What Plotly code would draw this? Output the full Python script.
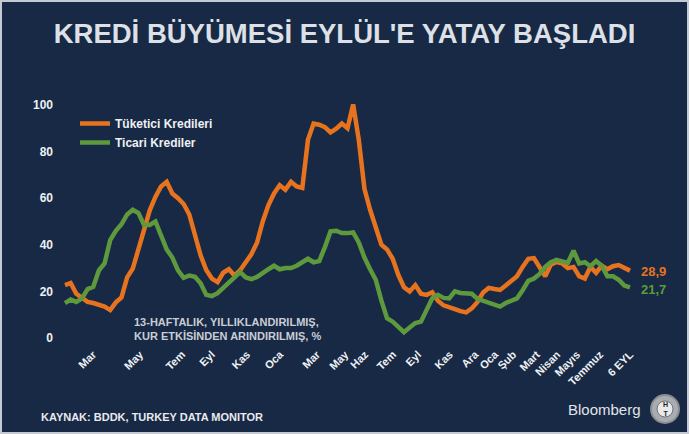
import plotly.graph_objects as go

# ---------------- data ----------------
tuketici = [22.7, 23.6, 19.0, 17.5, 15.5, 15.0, 14.4, 13.5, 12.0, 15.3,
            17.4, 26.0, 29.8, 38.5, 47.8, 54.8, 60.5, 65.0, 67.0, 62.0,
            60.0, 57.5, 53.0, 44.0, 35.5, 29.2, 25.5, 24.0, 28.0, 29.5,
            26.8, 29.1, 32.5, 36.0, 41.0, 50.0, 57.0, 62.0, 65.5, 63.6,
            67.0, 65.0, 64.4, 85.0, 92.0, 91.5, 90.5, 88.2, 89.8, 92.0,
            90.0, 100.2, 85.0, 64.0, 55.0, 47.0, 40.0, 38.0, 34.0, 27.0,
            21.8, 20.0, 22.7, 19.0, 18.5, 19.6, 16.0, 14.0, 13.4, 12.4,
            11.5, 11.0, 12.7, 15.5, 19.5, 21.5, 21.0, 20.6, 22.5, 24.5,
            26.5, 30.5, 34.0, 34.3, 30.5, 26.5, 31.5, 32.6, 32.0, 30.0,
            30.5, 26.5, 25.5, 30.5, 28.0, 31.0, 29.5, 30.8, 31.3, 30.0,
            28.9]
ticari = [15.0, 16.5, 15.5, 17.0, 21.0, 22.0, 29.0, 32.0, 42.0, 46.0,
          48.8, 53.0, 55.0, 53.6, 48.5, 48.5, 50.0, 44.0, 38.0, 34.5,
          29.0, 25.8, 26.8, 26.3, 23.5, 18.5, 18.0, 19.2, 21.5, 24.0,
          25.8, 28.3, 26.0, 25.3, 26.2, 28.0, 29.5, 31.0, 29.5, 30.0,
          30.0, 31.0, 32.5, 34.0, 32.5, 33.0, 39.0, 45.8, 46.0, 45.0,
          45.0, 45.3, 41.0, 34.5, 29.5, 25.0, 16.0, 8.5, 7.0, 5.0,
          2.5, 4.5, 6.4, 7.0, 12.5, 17.0, 18.5, 17.2, 17.0, 20.0,
          19.3, 19.3, 19.0, 16.8, 16.0, 15.6, 14.5, 13.5, 15.0, 16.0,
          17.0, 20.5, 24.5, 25.5, 27.5, 30.5, 32.5, 33.5, 32.6, 32.2,
          37.5, 32.0, 32.5, 30.8, 33.0, 31.0, 26.5, 26.5, 25.0, 22.5,
          21.7]
weeks = list(range(len(tuketici)))

tick_labels = ["Mar", "May", "Tem", "Eyl", "Kas", "Oca", "Mar", "May", "Haz",
               "Tem", "Eyl", "Kas", "Ara", "Oca", "Şub", "Mart", "Nisan",
               "Mayıs", "Temmuz", "6 EYL"]
tick_weeks = [4.96, 13.27, 20.7, 26.0, 32.2, 38.05, 44.6, 49.6, 53.1,
              58.05, 62.5, 68.1, 72.6, 76.1, 79.3, 83.5, 87.1, 90.6, 94.7, 100]
y_ticks = [0, 20, 40, 60, 80, 100]

title_text = "KREDİ BÜYÜMESİ EYLÜL'E YATAY BAŞLADI"
note_text = "13-HAFTALIK, YILLIKLANDIRILMIŞ,<br>KUR ETKİSİNDEN ARINDIRILMIŞ, %"
source_text = "KAYNAK: BDDK, TURKEY DATA MONITOR"

# ---------------- style ----------------
BG = "#172944"
ORANGE = "#e8731f"
GREEN = "#5e9a3d"
TXT = "#eef0f3"
FONT = "Liberation Sans, Arial, sans-serif"

W, H = 689, 434
ML, MR, MT, MB = 58, 9, 90, 89
PW, PH = W - ML - MR, H - MT - MB


def px(xp):
    return (xp - ML) / PW


def py(yp):
    return (H - MB - yp) / PH


fig = go.Figure()
fig.add_trace(go.Scatter(x=weeks, y=tuketici, mode="lines", name="Tüketici Kredileri",
                         line=dict(color=ORANGE, width=4.5)))
fig.add_trace(go.Scatter(x=weeks, y=ticari, mode="lines", name="Ticari Krediler",
                         line=dict(color=GREEN, width=4.5)))

fig.update_layout(
    width=W, height=H,
    margin=dict(l=ML, r=MR, t=MT, b=MB),
    paper_bgcolor=BG, plot_bgcolor=BG,
    font=dict(family=FONT, color=TXT, size=11, weight="bold"),
    title=dict(text=title_text, x=0.5, xanchor="center", xref="container",
               y=1 - 33 / H, yanchor="middle",
               font=dict(family=FONT, size=27.5, color="#dde1e7", weight="bold")),
    showlegend=True,
    legend=dict(x=px(75), y=py(109), xanchor="left", yanchor="top",
                bgcolor="rgba(0,0,0,0)", font=dict(size=12, color=TXT, weight="bold"),
                tracegroupgap=0, itemwidth=30),
    xaxis=dict(range=[-1.239, 108.85], tickmode="array", tickvals=tick_weeks,
               ticktext=tick_labels, tickangle=-45, showgrid=False, zeroline=False,
               showline=False, ticks="", tickfont=dict(size=11, color=TXT, weight="bold")),
    yaxis=dict(range=[-3.0, 106.4], tickmode="array", tickvals=y_ticks,
               showgrid=False, zeroline=False, showline=False, ticks="",
               ticklabelstandoff=4,
               tickfont=dict(size=12, color=TXT, weight="bold")),
)

annotations = [
    dict(text=note_text, x=px(132), y=py(329), xref="paper", yref="paper",
         xanchor="left", yanchor="middle", align="left", showarrow=False,
         font=dict(size=11, color="#c9cdd6", weight="bold")),
    dict(text="28,9", x=px(639), y=py(271), xref="paper", yref="paper",
         xanchor="left", yanchor="middle", showarrow=False,
         font=dict(size=13, color=ORANGE, weight="bold")),
    dict(text="21,7", x=px(639), y=py(289), xref="paper", yref="paper",
         xanchor="left", yanchor="middle", showarrow=False,
         font=dict(size=13, color=GREEN, weight="bold")),
    dict(text=source_text, x=px(39), y=py(417), xref="paper", yref="paper",
         xanchor="left", yanchor="middle", showarrow=False,
         font=dict(size=11, color="#e8eaee", weight="bold")),
    dict(text="Bloomberg", x=px(643), y=py(409), xref="paper", yref="paper",
         xanchor="right", yanchor="middle", showarrow=False,
         font=dict(size=15, color="#e2e4e8", weight="normal")),
    dict(text="H<br>T", x=px(665), y=py(409), xref="paper", yref="paper",
         xanchor="center", yanchor="middle", showarrow=False,
         font=dict(size=7, color="#222222", weight="bold")),
]
fig.update_layout(annotations=annotations)

shapes = [
    # outer frame
    dict(type="rect", xref="paper", yref="paper", x0=px(1), x1=px(688), y0=py(433), y1=py(1),
         line=dict(color="#c5cad2", width=2), fillcolor="rgba(0,0,0,0)", layer="above"),
    # logo
    dict(type="circle", xref="paper", yref="paper", x0=px(651), x1=px(679), y0=py(423), y1=py(395),
         line=dict(color="#8a8d92", width=2), fillcolor="#a9acb0"),
    dict(type="circle", xref="paper", yref="paper", x0=px(657), x1=px(673), y0=py(417), y1=py(401),
         line=dict(color="#6f7378", width=1), fillcolor="#e9e9e9"),
]
fig.update_layout(shapes=shapes)

fig.write_html("out.html", config={"displayModeBar": False},
               post_script="document.body.style.margin='0px';")
